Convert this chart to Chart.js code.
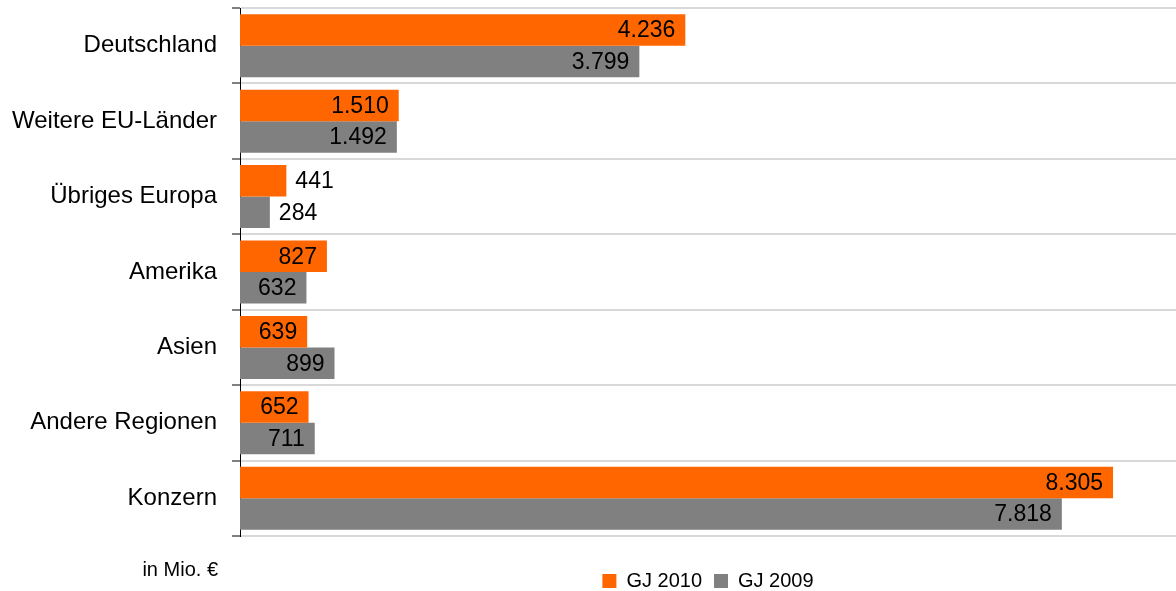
<!DOCTYPE html>
<html>
<head>
<meta charset="utf-8">
<script src="https://cdn.jsdelivr.net/npm/chart.js@4.4.1/dist/chart.umd.min.js"></script>
<style>
  html, body { margin: 0; padding: 0; background: #fff; overflow: hidden; }
  #wrap { position: relative; width: 1176px; height: 601px; }
</style>
</head>
<body>
<div id="wrap"><canvas id="c"></canvas></div>
<script>
const categories = ['Deutschland', 'Weitere EU-Länder', 'Übriges Europa', 'Amerika', 'Asien', 'Andere Regionen', 'Konzern'];
const gj2010 = [4236, 1510, 441, 827, 639, 652, 8305];
const gj2009 = [3799, 1492, 284, 632, 899, 711, 7818];
const seriesNames = ['GJ 2010', 'GJ 2009'];
const unitLabel = 'in Mio. €';

const FONT = "'Liberation Sans', Arial, sans-serif";

function fmt(v) {
  return v.toString().replace(/\B(?=(\d{3})+(?!\d))/g, '.');
}

const valueLabels = {
  id: 'valueLabels',
  afterDatasetsDraw(chart) {
    const ctx = chart.ctx;
    ctx.save();
    ctx.font = '23px ' + FONT;
    ctx.fillStyle = '#000';
    ctx.textBaseline = 'middle';
    chart.data.datasets.forEach((ds, di) => {
      const meta = chart.getDatasetMeta(di);
      meta.data.forEach((bar, i) => {
        const v = ds.data[i];
        const txt = fmt(v);
        const w = ctx.measureText(txt).width;
        const barW = bar.x - bar.base;
        if (barW > w + 20) {
          ctx.textAlign = 'right';
          ctx.fillText(txt, bar.x - 10, bar.y + 1);
        } else {
          ctx.textAlign = 'left';
          ctx.fillText(txt, bar.x + 9, bar.y + 1);
        }
      });
    });
    ctx.restore();
  }
};

const unitText = {
  id: 'unitText',
  afterDraw(chart) {
    const ctx = chart.ctx;
    ctx.save();
    ctx.font = '20px ' + FONT;
    ctx.fillStyle = '#000';
    ctx.textAlign = 'right';
    ctx.textBaseline = 'middle';
    ctx.fillText(unitLabel, 218, 570);
    ctx.restore();
  }
};

new Chart(document.getElementById('c'), {
  type: 'bar',
  data: {
    labels: categories,
    datasets: [
      { label: seriesNames[0], data: gj2010, backgroundColor: '#FF6600', borderWidth: 0 },
      { label: seriesNames[1], data: gj2009, backgroundColor: '#808080', borderWidth: 0 }
    ]
  },
  options: {
    indexAxis: 'y',
    responsive: true,
    maintainAspectRatio: false,
    animation: false,
    devicePixelRatio: 1,
    categoryPercentage: 0.835,
    barPercentage: 1.0,
    layout: { padding: { top: 8, right: 0, left: 0, bottom: 0 } },
    plugins: {
      legend: {
        position: 'bottom',
        fullSize: false,
        labels: {
          boxWidth: 14,
          boxHeight: 14,
          padding: 12,
          color: '#000',
          font: { family: FONT, size: 20 }
        }
      },
      tooltip: { enabled: false },
      title: { display: false }
    },
    scales: {
      x: {
        min: 0,
        max: 8904,
        display: true,
        grid: { display: false },
        border: { display: false },
        ticks: { display: false },
        afterFit(scale) { scale.height = 23; }
      },
      y: {
        offset: true,
        grid: {
          offset: true,
          color: '#d9d9d9',
          lineWidth: 2,
          drawTicks: true,
          tickLength: 8,
          tickColor: '#000',
          tickWidth: 1
        },
        border: { display: true, color: '#000', width: 1 },
        ticks: {
          padding: 15,
          color: '#000',
          font: { family: FONT, size: 24 },
          autoSkip: false
        },
        afterFit(scale) {
          scale.width = 240;
          scale.paddingTop = 0;
          scale.paddingBottom = 0;
        }
      }
    }
  },
  plugins: [valueLabels, unitText]
});
</script>
</body>
</html>
